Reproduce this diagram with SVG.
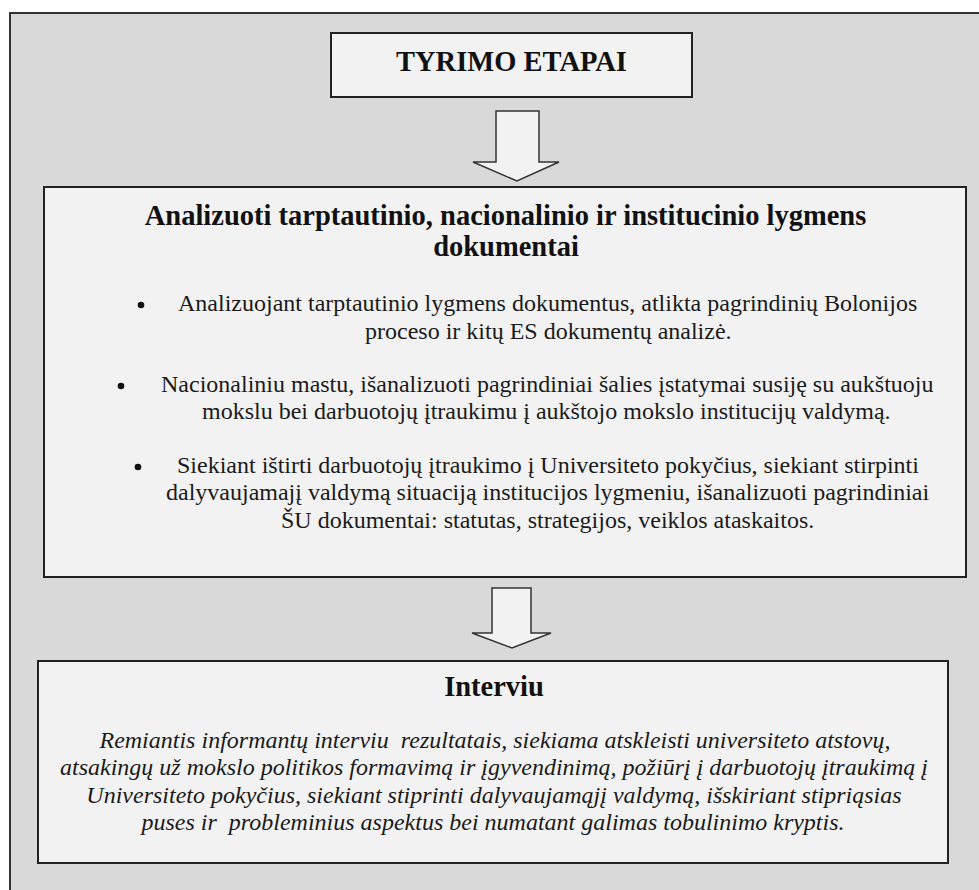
<svg xmlns="http://www.w3.org/2000/svg" width="979" height="890" viewBox="0 0 979 890">
  <style>
    .frame { fill: #d9d9d9; stroke: #333; stroke-width: 2; }
    .box { fill: #f2f2f2; stroke: #222; stroke-width: 2; }
    .arrow { fill: #f2f2f2; stroke: #333; stroke-width: 1.5; stroke-linejoin: miter; }
    .head { font-family: "Liberation Serif", "Times New Roman", serif; font-weight: bold; font-size: 28.5px; fill: #111; text-anchor: middle; }
    .body { font-family: "Liberation Serif", "Times New Roman", serif; font-size: 24px; fill: #1a1a1a; }
    .ital { font-family: "Liberation Serif", "Times New Roman", serif; font-style: italic; font-size: 24px; fill: #1a1a1a; text-anchor: middle; }
    .dot { fill: #111; }
  </style>

  <!-- outer frame, runs off the right and bottom edges -->
  <rect class="frame" x="10" y="13" width="990" height="900"/>

  <g id="title">
    <rect class="box" x="331" y="33" width="361" height="64"/>
    <text class="head" x="511.5" y="71">TYRIMO ETAPAI</text>
  </g>

  <g id="connectors">
    <polygon class="arrow" points="496,111 539,111 539,162 559,162 517,181 473,162 496,162"/>
    <polygon class="arrow" points="492,588 531,588 531,633 551,633 512,648 472,633 492,633"/>
  </g>

  <g id="documents">
    <rect class="box" x="44" y="187" width="922" height="390"/>
    <text class="head" x="505.5" y="225">Analizuoti tarptautinio, nacionalinio ir institucinio lygmens</text>
    <text class="head" x="506" y="256">dokumentai</text>

    <circle class="dot" cx="141" cy="305" r="3.3"/>
    <text class="body" x="178" y="311">Analizuojant tarptautinio lygmens dokumentus, atlikta pagrindinių Bolonijos</text>
    <text class="body" x="365" y="339">proceso ir kitų ES dokumentų analizė.</text>

    <circle class="dot" cx="121" cy="386" r="3.3"/>
    <text class="body" x="161" y="392">Nacionaliniu mastu, išanalizuoti pagrindiniai šalies įstatymai susiję su aukštuoju</text>
    <text class="body" x="202" y="419">mokslu bei darbuotojų įtraukimu į aukštojo mokslo institucijų valdymą.</text>

    <circle class="dot" cx="138" cy="467" r="3.3"/>
    <text class="body" x="177" y="473">Siekiant ištirti darbuotojų įtraukimo į Universiteto pokyčius, siekiant stirpinti</text>
    <text class="body" x="166" y="500">dalyvaujamajį valdymą situaciją institucijos lygmeniu, išanalizuoti pagrindiniai</text>
    <text class="body" x="281" y="528">ŠU dokumentai: statutas, strategijos, veiklos ataskaitos.</text>
  </g>

  <g id="interview">
    <rect class="box" x="38" y="661" width="910" height="202"/>
    <text class="head" x="494" y="696">Interviu</text>
    <text class="ital" x="495" y="748" xml:space="preserve">Remiantis informantų interviu  rezultatais, siekiama atskleisti universiteto atstovų,</text>
    <text class="ital" x="494" y="775">atsakingų už mokslo politikos formavimą ir įgyvendinimą, požiūrį į darbuotojų įtraukimą į</text>
    <text class="ital" x="494" y="803">Universiteto pokyčius, siekiant stiprinti dalyvaujamąjį valdymą, išskiriant stipriąsias</text>
    <text class="ital" x="493" y="830" xml:space="preserve">puses ir  probleminius aspektus bei numatant galimas tobulinimo kryptis.</text>
  </g>
</svg>
